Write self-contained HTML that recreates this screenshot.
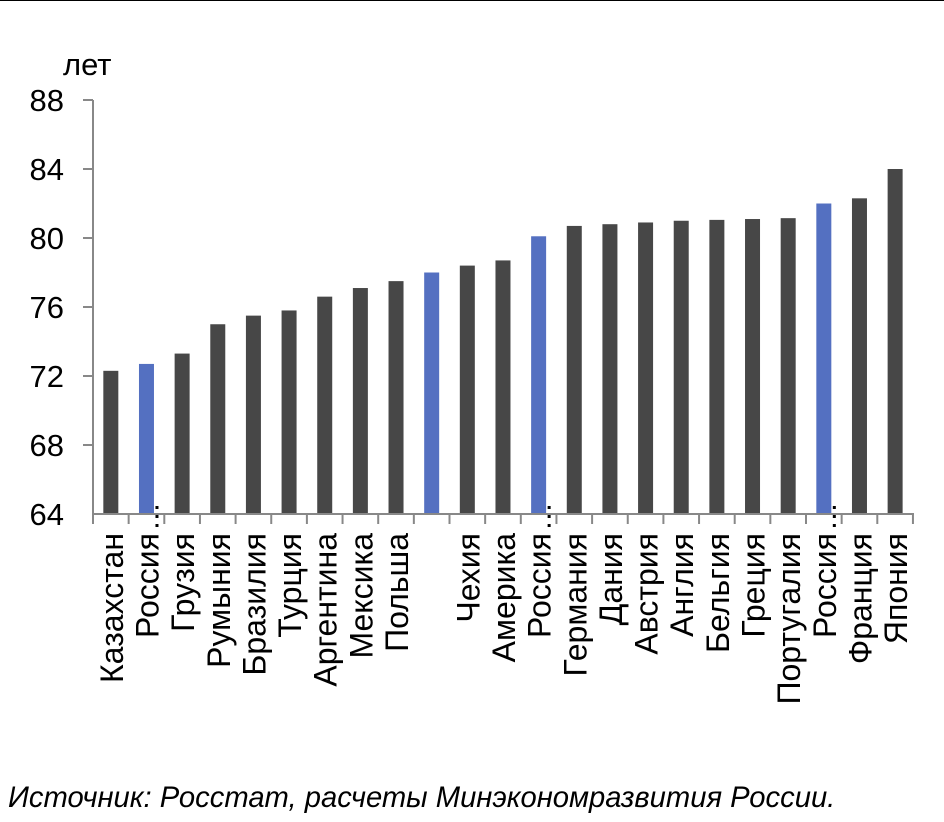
<!DOCTYPE html>
<html><head><meta charset="utf-8"><style>
html,body{margin:0;padding:0;background:#fff;}
svg{display:block;font-family:"Liberation Sans",Arial,sans-serif;}
</style></head><body>
<svg width="944" height="822" xmlns="http://www.w3.org/2000/svg">
<line x1="0" y1="0.5" x2="944" y2="0.5" stroke="#000" stroke-width="1"/>
<text x="63" y="75" font-size="31" fill="#000">лет</text>
<g font-size="31" fill="#000" text-anchor="end">
<text x="64" y="111">88</text>
<text x="64" y="180">84</text>
<text x="64" y="249">80</text>
<text x="64" y="318">76</text>
<text x="64" y="387">72</text>
<text x="64" y="456">68</text>
<text x="64" y="525">64</text>
</g>
<g stroke="#888" stroke-width="2">
<line x1="93" y1="100" x2="93" y2="514"/>
<line x1="83" y1="100" x2="93" y2="100"/>
<line x1="83" y1="169" x2="93" y2="169"/>
<line x1="83" y1="238" x2="93" y2="238"/>
<line x1="83" y1="307" x2="93" y2="307"/>
<line x1="83" y1="376" x2="93" y2="376"/>
<line x1="83" y1="445" x2="93" y2="445"/>
</g>
<g id="bars"></g>
<g id="axis"></g>
<g id="labels" font-size="32" fill="#000" text-anchor="end"></g>
<text x="8" y="807" font-size="29.2" font-style="italic" fill="#000">Источник: Росстат, расчеты Минэкономразвития России.</text>
<script>
(function(){
var names=["Казахстан","Россия","Грузия","Румыния","Бразилия","Турция","Аргентина","Мексика","Польша","","Чехия","Америка","Россия","Германия","Дания","Австрия","Англия","Бельгия","Греция","Португалия","Россия","Франция","Япония"];
var vals=[72.3,72.7,73.3,75.0,75.5,75.8,76.6,77.1,77.5,78.0,78.4,78.7,80.1,80.7,80.8,80.9,81.0,81.05,81.1,81.15,82.0,82.3,84.0];
var blue={1:1,9:1,12:1,20:1};
var ns="http://www.w3.org/2000/svg",step=35.65,x0=93,y0=514,k=69/4;
var B=document.getElementById("bars"),A=document.getElementById("axis"),L=document.getElementById("labels");
function el(t,a,p){var e=document.createElementNS(ns,t);for(var q in a)e.setAttribute(q,a[q]);p.appendChild(e);return e;}
for(var i=0;i<23;i++){
var c=x0+step*(i+0.5),ty=y0-(vals[i]-64)*k;
el("rect",{x:c-7.5,y:ty,width:15,height:y0-ty,fill:blue[i]?"#5470c1":"#474747"},B);
if(names[i]){var t=el("text",{transform:"translate("+(c+12)+",533) rotate(-90)"},L);t.textContent=names[i];}
if(names[i]=="Россия"){for(var d=0;d<3;d++)el("rect",{x:c+9,y:506+d*9,width:3,height:3,fill:"#000"},L);}
}
el("line",{x1:93,y1:514,x2:914,y2:514,stroke:"#888","stroke-width":2},A);
for(var i=0;i<=23;i++){var x=x0+step*i;el("line",{x1:x,y1:514,x2:x,y2:524,stroke:"#888","stroke-width":2},A);}
})();
</script>
</svg>
</body></html>
